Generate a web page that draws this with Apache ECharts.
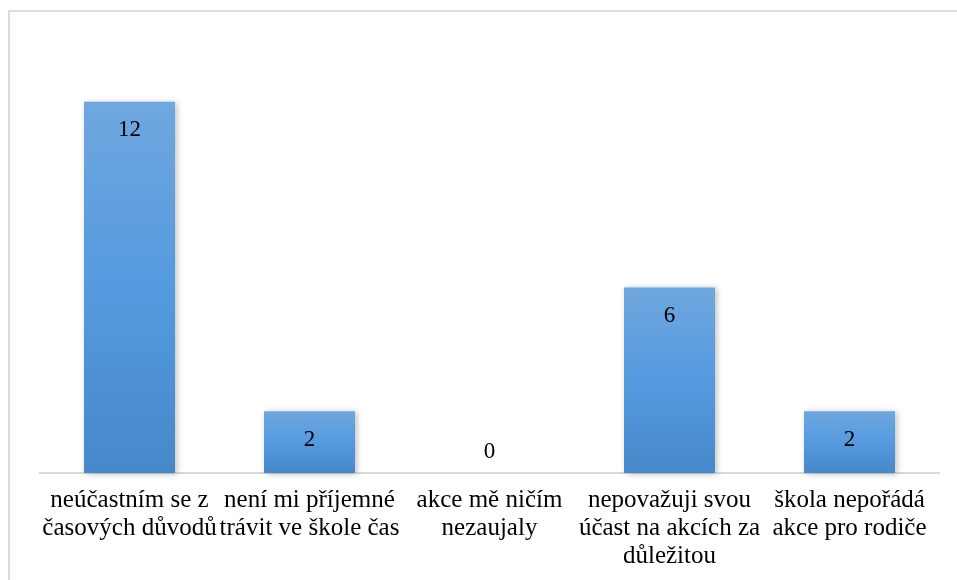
<!DOCTYPE html>
<html>
<head>
<meta charset="utf-8">
<script src="https://cdn.jsdelivr.net/npm/echarts@6/dist/echarts.min.js"></script>
<style>
html,body{margin:0;padding:0;background:#fff;}
#chart{width:957px;height:580px;}
</style>
</head>
<body>
<div id="chart"></div>
<script>
const categories = [
  "neúčastním se z\nčasových důvodů",
  "není mi příjemné\ntrávit ve škole čas",
  "akce mě ničím\nnezaujaly",
  "nepovažuji svou\núčast na akcích za\ndůležitou",
  "škola nepořádá\nakce pro rodiče"
];
const values = [12, 2, 0, 6, 2];

const chart = echarts.init(document.getElementById('chart'), null, {renderer: 'canvas'});
const serif = '"Liberation Serif", "Times New Roman", serif';
chart.setOption({
  animation: false,
  backgroundColor: '#ffffff',
  graphic: [{
    type: 'rect',
    shape: {x: 9, y: 11, width: 1000, height: 1000},
    style: {fill: 'none', stroke: '#dcdcdc', lineWidth: 2},
    silent: true
  }],
  grid: {left: 39.5, right: 17.5, top: 40, bottom: 107, containLabel: false},
  xAxis: {
    type: 'category',
    data: categories,
    axisLine: {show: true, lineStyle: {color: '#d9d9d9', width: 2}},
    axisTick: {show: false},
    axisLabel: {
      interval: 0,
      color: '#000',
      fontFamily: serif,
      fontSize: 25,
      lineHeight: 28,
      margin: 13
    }
  },
  yAxis: {
    type: 'value',
    min: 0,
    max: 14,
    show: false,
    splitLine: {show: false}
  },
  series: [{
    type: 'bar',
    data: values.map(function (v) {
      return v === 0 ? {value: v, label: {position: 'top', distance: 10}} : v;
    }),
    barWidth: 91,
    itemStyle: {
      color: new echarts.graphic.LinearGradient(0, 0, 0, 1, [
        {offset: 0, color: '#6fa7de'},
        {offset: 0.5, color: '#559ae0'},
        {offset: 1, color: '#4688c9'}
      ]),
      shadowColor: 'rgba(0,0,0,0.25)',
      shadowBlur: 6,
      shadowOffsetX: 2,
      shadowOffsetY: 1
    },
    label: {
      show: true,
      position: 'insideTop',
      distance: 17,
      color: '#000',
      fontFamily: serif,
      fontSize: 23
    }
  }]
});
</script>
</body>
</html>
